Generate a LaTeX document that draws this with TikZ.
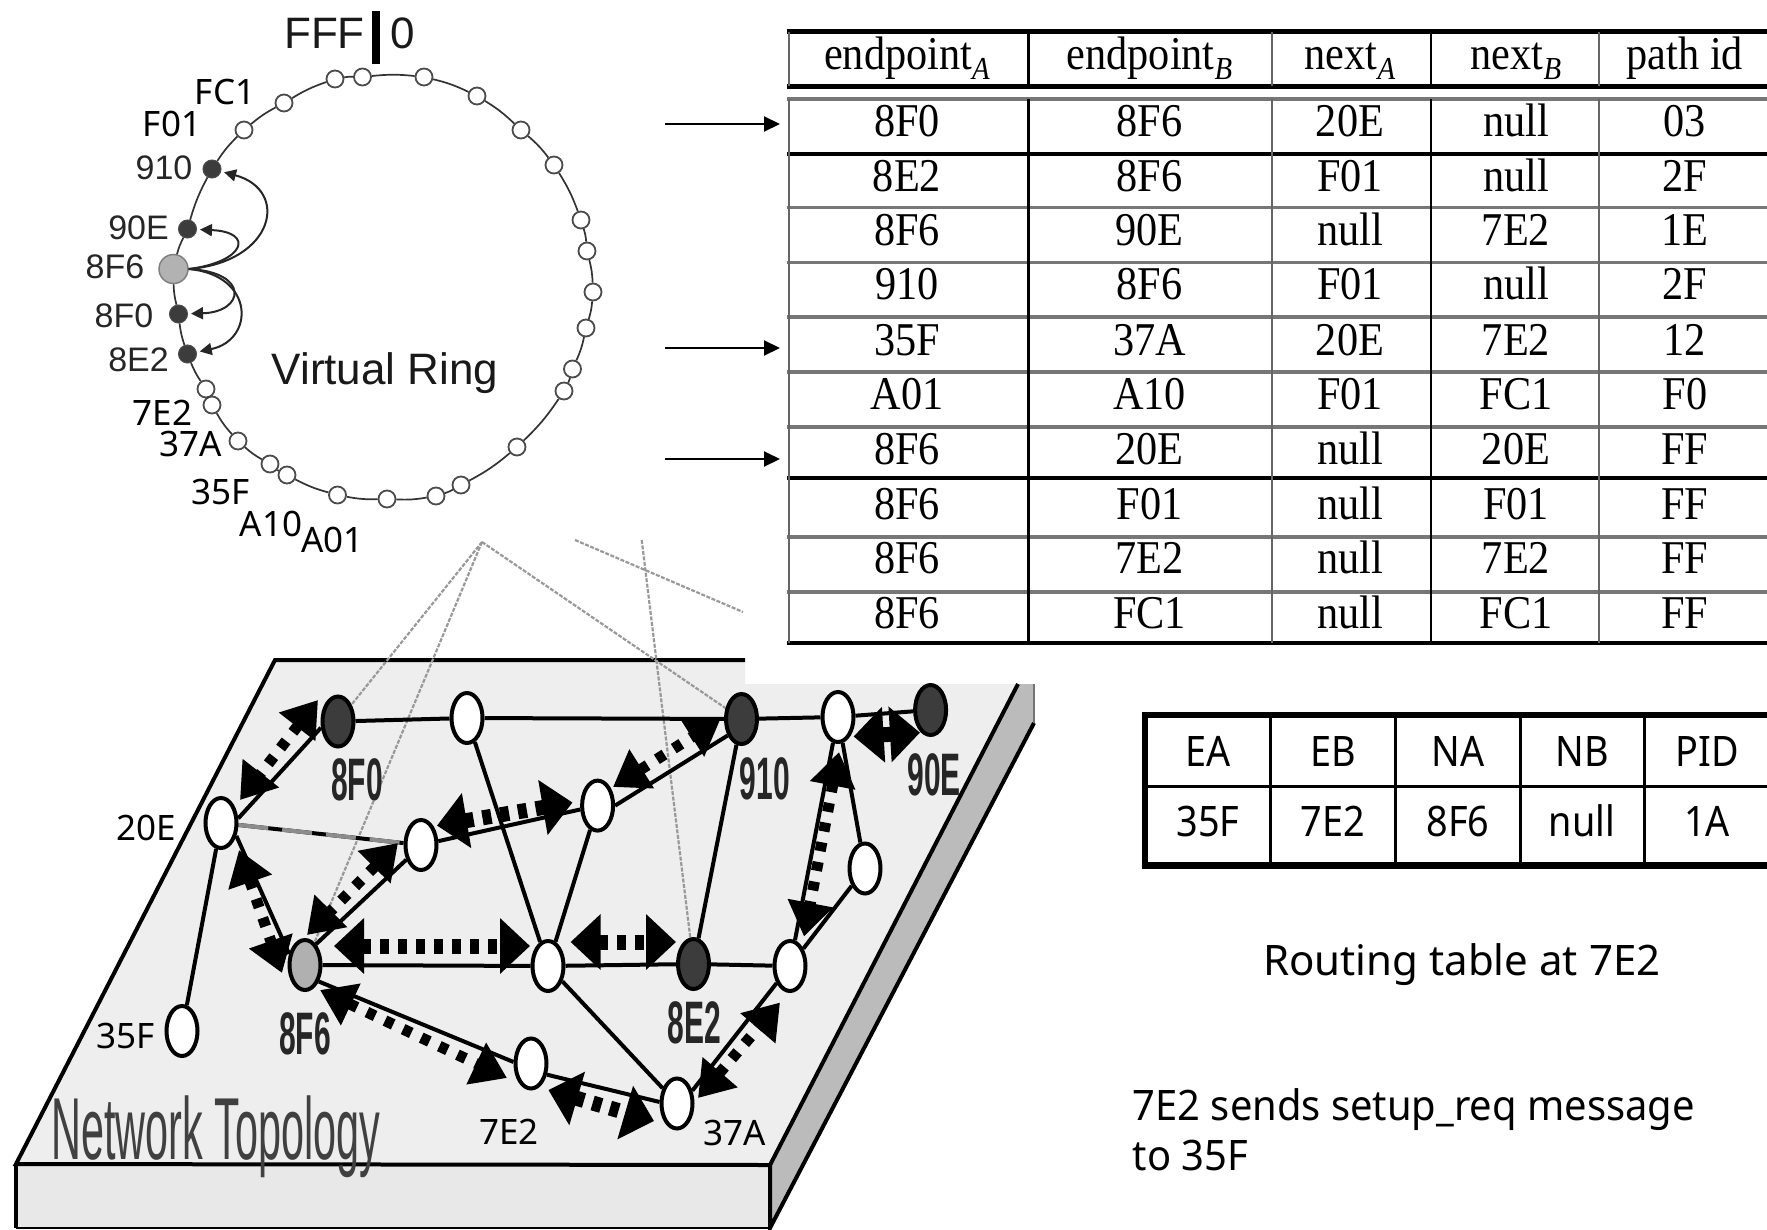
\documentclass[tikz,border=0pt]{standalone}
\usepackage{fontspec}
\usetikzlibrary{shapes.geometric,arrows.meta}
\setmainfont{Liberation Sans}
\newfontfamily\fHelv{Liberation Sans}
\newfontfamily\fNarrow[FakeStretch=0.5]{Liberation Sans}
\newfontfamily\fNarrowT[FakeStretch=0.47]{Liberation Sans}
\newfontfamily\fTah{Noto Sans}
\newfontfamily\fTahB[FakeStretch=0.9]{Noto Sans}
\newfontfamily\fTahC[FakeStretch=0.95]{Noto Sans}
\newfontfamily\fTim[FakeStretch=0.9]{Liberation Serif}
\definecolor{plateTop}{HTML}{EEEEEE}
\definecolor{plateFront}{HTML}{E8E8E8}
\definecolor{plateSide}{HTML}{BBBBBB}
\definecolor{darkNode}{HTML}{3C3C3C}
\definecolor{greyNode}{HTML}{B0B0B0}
\definecolor{tGrey}{HTML}{777777}
\pgfdeclarelayer{bg}
\pgfsetlayers{bg,main}
\tikzset{
  ringopen/.style={circle,draw=black!70,line width=1.8pt,fill=white,inner sep=0pt,minimum size=17pt},
  ringdark/.style={circle,draw=black!70,line width=1pt,fill=darkNode,inner sep=0pt,minimum size=18pt},
  ringmain/.style={circle,draw=black!50,line width=1.5pt,fill=black!30,inner sep=0pt,minimum size=29pt},
  ringline/.style={draw=black!80,line width=1.7pt},
  chord/.style={draw=black!85,line width=2pt,-{Triangle[length=12pt,width=12pt]},shorten >=3pt},
  ringsans/.style={inner sep=0pt,font=\fontsize{34}{34}\selectfont\fHelv,text=black!85},
  ringtah/.style={inner sep=0pt,font=\fontsize{35}{35}\selectfont\fTah},
  pnode/.style={ellipse,draw=black,line width=4pt,fill=white,inner sep=0pt,minimum width=31pt,minimum height=50pt},
  pdark/.style={pnode,fill=darkNode},
  pgrey/.style={pnode,fill=greyNode},
  plabel/.style={inner sep=0pt,font=\fontsize{60}{60}\selectfont\fNarrow\bfseries,text=black!85},
  pedge/.style={draw=black,line width=4pt},
  plate/.style={draw=black,line width=4pt,line join=miter},
  mapline/.style={draw=black!40,line width=2.2pt,dash pattern=on 4pt off 1.5pt},
  dblarrow/.style={line width=15pt,dash pattern=on 9pt off 9pt,{Triangle[length=30pt,width=54pt]}-{Triangle[length=30pt,width=54pt]}},
  dblsmall/.style={line width=11pt,dash pattern=on 9pt off 11pt,{Triangle[length=34pt,width=44pt]}-{Triangle[length=34pt,width=44pt]}},
  cellT/.style={anchor=base,inner sep=0pt,font=\fontsize{47}{47}\selectfont\fTim},
  cellB/.style={anchor=base,inner sep=0pt,font=\fontsize{42}{42}\selectfont\fTahB},
  noteT/.style={anchor=base west,inner sep=0pt,font=\fontsize{42}{42}\selectfont\fTahC},
  rowarrow/.style={draw=black,line width=2pt,-{Triangle[length=16pt,width=15pt]}}
}
\newcommand{\subA}[1]{\raisebox{-10pt}{\fontsize{32}{32}\selectfont\itshape #1}}
\begin{document}
\begin{tikzpicture}[x=1pt,y=-1pt]
\useasboundingbox (0,0) rectangle (1767,1229);

% ---------- virtual ring ----------
\node[ringmain] (r8F6) at (173.5,269) {};
\node[ringdark] (r90E) at (187.5,229) {};
\node[ringdark] (r910) at (212,169) {};
\node[ringdark] (r8F0) at (178.5,314) {};
\node[ringdark] (r8E2) at (187.5,354) {};
\foreach \n/\x/\y in {a/244/130,b/284/103,c/335/79,d/362.5/77,e/424/77,f/477/96,g/521/130,h/554/165,i/581/220,j/587/251,k/593/292,l/586/328,m/572.5/369,n/564/391,o/517/447,p/461/485,q/436/496,r/387/499,s/337.5/495,t/287/475,u/270/464,v/238/441,w/212/405,x/206/389}
  \node[ringopen] (r\n) at (\x,\y) {};
\foreach \p/\q in {r8F6/r90E,r90E/r910,r910/ra,ra/rb,rb/rc,rc/rd,rd/re,re/rf,rf/rg,rg/rh,rh/ri,ri/rj,rj/rk,rk/rl,rl/rm,rm/rn,rn/ro,ro/rp,rp/rq,rq/rr,rr/rs,rs/rt,rt/ru,ru/rv,rv/rw,rw/rx,rx/r8E2,r8E2/r8F0,r8F0/r8F6}
  \draw[ringline] (\p) to[bend left=6] (\q);
\draw[chord] (r8F6.east) .. controls (275,262) and (290,190) .. (r910);
\draw[chord] (r8F6.east) .. controls (245,262) and (255,232) .. (r90E);
\draw[chord] (r8F6.east) .. controls (250,272) and (245,312) .. (r8F0);
\draw[chord] (r8F6.east) .. controls (255,275) and (255,340) .. (r8E2);

\coordinate (tickTop) at (376,11);
\coordinate (tickBot) at (376,64);
\draw[line width=8.5pt] (tickTop) -- (tickBot);
\node[inner sep=0pt,font=\fontsize{44}{44}\selectfont\fHelv,text=black!90] (lFFF) at (324.5,33) {FFF};
\node[inner sep=0pt,font=\fontsize{44}{44}\selectfont\fHelv,text=black!90] (l0) at (402.5,33) {0};
\node[ringsans] (l910) at (164,168) {910};
\node[ringsans] (l90E) at (138.5,228) {90E};
\node[ringsans] (l8F6) at (115,267) {8F6};
\node[ringsans] (l8F0) at (124,316) {8F0};
\node[ringsans] (l8E2) at (138.5,360) {8E2};
\node[ringtah] (lFC1) at (225,92) {FC1};
\node[ringtah] (lF01) at (172,124) {F01};
\node[ringtah] (l7E2) at (162.5,412.5) {7E2};
\node[ringtah] (l37A) at (191,444) {37A};
\node[ringtah] (l35F) at (221,492) {35F};
\node[ringtah] (lA10) at (271,524) {A10};
\node[ringtah] (lA01) at (332.5,540) {A01};
\node[inner sep=0pt,font=\fontsize{44}{44}\selectfont\fHelv,text=black!90] (lVR) at (385,373) {Virtual Ring};

% ---------- network nodes ----------
\node[pdark] (n8F0) at (338,721.5) {};
\node[pnode] (nTop) at (467,718) {};
\node[pdark] (n910) at (741.5,719) {};
\node[pnode] (nTR) at (838,717) {};
\node[pdark] (n90E) at (930.6,710) {};
\node[pnode] (n20E) at (221,823) {};
\node[pnode] (nSec) at (421,845) {};
\node[pnode] (nUM) at (597.6,805.6) {};
\node[pnode] (nLR) at (865,868.5) {};
\node[pgrey] (n8F6) at (305,965) {};
\node[pnode] (nCtr) at (548,966) {};
\node[pdark] (n8E2) at (693.5,964) {};
\node[pnode] (nR) at (790,966) {};
\node[pnode] (n35F) at (182,1031) {};
\node[pnode] (n7E2) at (531,1063.5) {};
\node[pnode] (n37A) at (677,1103.5) {};

% plate and everything under the nodes
\begin{pgfonlayer}{bg}
  \coordinate (pTL) at (275,660);
  \coordinate (pTR) at (745,660);
  \coordinate (pN) at (745,684);
  \coordinate (pRT) at (1018,684);
  \coordinate (pFR) at (770,1165);
  \coordinate (pFL) at (16,1164);
  \coordinate (pSR) at (1034,684);
  \coordinate (pSB) at (1034,723);
  \coordinate (pBR) at (770,1228);
  \coordinate (pBL) at (16,1228);
  \fill[plateTop] (pTL) -- (pTR) -- (pN) -- (pRT) -- (pFR) -- (pFL) -- cycle;
  \fill[plateFront] (pFL) -- (pFR) -- (pBR) -- (pBL) -- cycle;
  \fill[plateSide] (pFR) -- (pRT) -- (pSR) -- (pSB) -- (pBR) -- cycle;
  \draw[plate] (pTR) -- (pTL) -- (pFL) -- (pFR) -- (pRT);
  \draw[plate] (pFL) -- (pBL);
  \draw[plate] (pFR) -- (pBR) -- (pSB);
  \draw[draw=black!55,line width=2pt] (pSR) -- (pSB);
  \draw[draw=black,line width=1.5pt] (pBL) -- (pBR);

  \coordinate (gApex) at (482,542);
  \coordinate (gOne) at (575,540);
  \coordinate (gOneE) at (743,612);
  \coordinate (gTwo) at (641.7,540);
  \draw[mapline] (gApex) -- (n8F0);
  \draw[mapline] (gApex) -- (n8F6);
  \draw[mapline] (gApex) -- (n910);
  \draw[mapline] (gOne) -- (gOneE);
  \draw[mapline] (gTwo) -- (n8E2);

  \foreach \p/\q in {nTop/n910,n910/nTR,nTR/n90E,n20E/n35F,nSec/nUM,nTop/nCtr,nUM/nCtr,n910/n8E2,n8F6/nCtr,nCtr/n8E2,n8E2/nR,nR/nTR,nR/nLR,nLR/nTR,nCtr/n37A}
    \draw[pedge] (\p) -- (\q);
  \draw[pedge] (n8F0) -- (nTop);
  \draw[pedge] (n8F0.200) -- (n20E.15);
  \draw[pedge] (n20E.-40) -- (n8F6.145);
  \draw[pedge] (nSec.225) -- (n8F6.62);
  \draw[pedge] (nUM.0) -- (n910.230);
  \draw[pedge] (n8F6.-50) -- (n7E2.175);
  \draw[pedge] (n7E2.-35) -- (n37A.175);
  \draw[pedge] (nR) -- (n37A.40);
  \draw[pedge] (n20E) -- (nSec);
  \draw[draw=black!45,line width=4pt,dash pattern=on 30pt off 14pt] (n20E) -- (nSec);

  \foreach \k/\ax/\ay/\bx/\by in {
    a/318/700/240/800, b/239/850/282/973, c/398/843/307/935, e/320/990/507/1078,
    g/613/787/720.5/719, j/698/1098/780/1002.5, k/839/752/804/936.5}{
    \coordinate (da\k) at (\ax,\ay);
    \coordinate (db\k) at (\bx,\by);
    \draw[dblsmall] (da\k) -- (db\k);
  }
  \foreach \k/\ax/\ay/\bx/\by in {
    d/334/946/530/946, f/437/825.6/572.5/802.5, h/570.6/942/676/942,
    i/548.4/1090/654/1121, l/853.6/736.5/920/732.6}{
    \coordinate (da\k) at (\ax,\ay);
    \coordinate (db\k) at (\bx,\by);
    \draw[dblarrow] (da\k) -- (db\k);
  }
\end{pgfonlayer}

\node[plabel] (p8F0) at (357,779.5) {8F0};
\node[plabel] (p8F6) at (305,1034) {8F6};
\node[plabel] (p910) at (765,778.5) {910};
\node[plabel] (p90E) at (934,774.6) {90E};
\node[plabel] (p8E2) at (694.6,1023) {8E2};
\node[ringtah] (p20E) at (146.5,828) {20E};
\node[ringtah] (p35F) at (126,1035.6) {35F};
\node[ringtah] (p7E2) at (509,1132) {7E2};
\node[ringtah] (p37A) at (735,1132.6) {37A};
\node[anchor=base,inner sep=0pt,font=\fontsize{88}{88}\selectfont\fNarrowT,text=black!75] (pNT) at (216,1159) {Network Topology};

% ---------- upper table ----------
\foreach \y in {99,207.7,262.7,317,372,427,537,592}
  \draw[draw=tGrey,line width=3.5pt] (787,\y) -- (1767,\y);
\foreach \y in {154,478}
  \draw[line width=3.5pt] (787,\y) -- (1767,\y);
\foreach \y in {31.7,86.7,643}
  \draw[line width=4.5pt] (787,\y) -- (1767,\y);
\foreach \x in {788.5,1271.6,1599}
  \draw[draw=black!60,line width=2pt] (\x,32) -- (\x,86) (\x,99) -- (\x,643);
\foreach \x in {1028.6,1431}
  \draw[line width=2.4pt] (\x,32) -- (\x,86) (\x,99) -- (\x,643);
\node[cellT] (h1) at (907,69) {endpoint\subA{A}};
\node[cellT] (h2) at (1149.5,69) {endpoint\subA{B}};
\node[cellT] (h3) at (1350,69) {next\subA{A}};
\node[cellT] (h4) at (1516,69) {next\subA{B}};
\node[cellT] (h5) at (1684.8,69) {path id};
\foreach \r/\y/\a/\b/\c/\d/\e in {
  1/136/8F0/8F6/20E/null/03,
  2/191/8E2/8F6/F01/null/2F,
  3/245/8F6/90E/null/7E2/1E,
  4/299/910/8F6/F01/null/2F,
  5/355/35F/37A/20E/7E2/12,
  6/409/A01/A10/F01/FC1/F0,
  7/464/8F6/20E/null/20E/FF,
  8/519/8F6/F01/null/F01/FF,
  9/573/8F6/7E2/null/7E2/FF,
  10/628/8F6/FC1/null/FC1/FF}{
  \node[cellT] (c\r a) at (907,\y) {\a};
  \node[cellT] (c\r b) at (1149.5,\y) {\b};
  \node[cellT] (c\r c) at (1350,\y) {\c};
  \node[cellT] (c\r d) at (1516,\y) {\d};
  \node[cellT] (c\r e) at (1684.8,\y) {\e};
}
\coordinate (af1) at (665,124);  \coordinate (at1) at (780,124);
\coordinate (af2) at (665,348);  \coordinate (at2) at (780,348);
\coordinate (af3) at (665,459);  \coordinate (at3) at (780,459);
\draw[rowarrow] (af1) -- (at1);
\draw[rowarrow] (af2) -- (at2);
\draw[rowarrow] (af3) -- (at3);

% ---------- routing table at 7E2 ----------
\draw[line width=6.5pt] (1767,715) -- (1144.8,715) -- (1144.8,865.7) -- (1767,865.7);
\draw[line width=3pt] (1144.8,786.7) -- (1767,786.7);
\foreach \x in {1270,1395,1520,1644}
  \draw[line width=3pt] (\x,715) -- (\x,865.7);
\foreach \k/\x/\u/\v in {1/1208/EA/35F,2/1333/EB/7E2,3/1458/NA/8F6,4/1582/NB/null,5/1707/PID/1A}{
  \node[cellB] (rh\k) at (\x,766.7) {\u};
  \node[cellB] (rv\k) at (\x,836.7) {\v};
}
\node[noteT,font=\fontsize{42}{42}\selectfont\fTah] (nRouting) at (1263,975) {Routing table at 7E2};
\node[noteT] (nSends) at (1132.5,1120) {7E2 sends setup\_req message};
\node[noteT] (nTo) at (1132.5,1170) {to 35F};
\end{tikzpicture}
\end{document}
